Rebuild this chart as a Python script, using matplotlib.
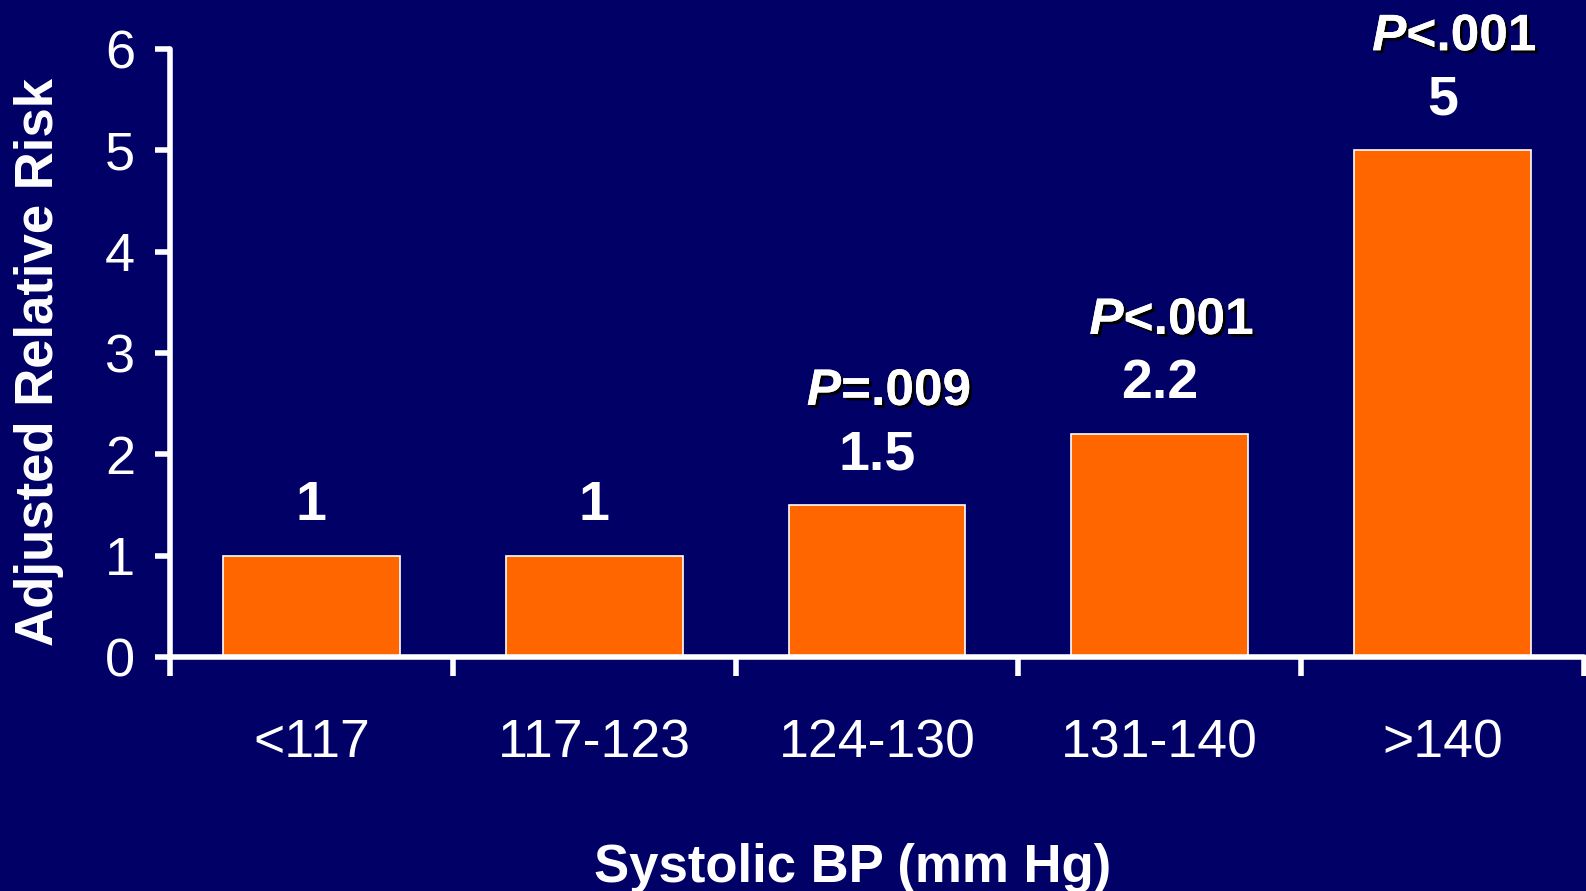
import matplotlib.pyplot as plt
from matplotlib import patheffects
import numpy as np

groups = ['<117', '117-123', '124-130', '131-140', '>140']
risk = [1, 1, 1.5, 2.2, 5]
p_labels = ['', '', '=.009', '<.001', '<.001']

BG = '#000066'
BAR = '#ff6600'

plt.rcParams['font.family'] = ['Liberation Sans', 'DejaVu Sans']
plt.rcParams['mathtext.fontset'] = 'custom'
plt.rcParams['mathtext.it'] = 'Liberation Sans:italic:bold'
plt.rcParams['mathtext.rm'] = 'Liberation Sans:bold'

fig = plt.figure(figsize=(15.86, 8.91), dpi=100, facecolor=BG)
ax = fig.add_axes([0.1072, 0.2626, 0.8915, 0.6824], facecolor=BG)

x = np.arange(len(groups))
ax.bar(x, risk, width=0.625, color=BAR, edgecolor='white', linewidth=1.2, zorder=2)

ax.set_xlim(-0.5, len(groups) - 0.5)
ax.set_ylim(0, 6)
ax.set_yticks(range(7))

# labels sit under the bar centres, tick marks go on the group boundaries
ax.set_xticks(x)
ax.set_xticklabels(groups)
ax.set_xticks(np.arange(len(groups) + 1) - 0.5, minor=True)
ax.tick_params(axis='x', which='major', length=0, pad=44, labelsize=38.5, labelcolor='white')
ax.tick_params(axis='x', which='minor', length=14, width=4, color='white', direction='out')
ax.tick_params(axis='y', length=11, width=4, color='white', pad=14, labelsize=39, labelcolor='white')

for side in ['top', 'right']:
    ax.spines[side].set_visible(False)
for side in ['left', 'bottom']:
    ax.spines[side].set_color('white')
    ax.spines[side].set_linewidth(4)
    ax.spines[side].set_capstyle('round')

shadow = [patheffects.withSimplePatchShadow(offset=(2, -2), shadow_rgbFace='black', alpha=1),
          patheffects.Normal()]

for xi, v, p in zip(x, risk, p_labels):
    ax.annotate('%g' % v, (xi, v), xytext=(0, 36), textcoords='offset pixels',
                ha='center', va='baseline', fontsize=40, fontweight='bold', color='white')
    if p:
        ax.annotate(r'$P$' + p, (xi, v), xytext=(12, 100), textcoords='offset pixels',
                    ha='center', va='baseline', fontsize=37, fontweight='bold', color='white',
                    path_effects=shadow)

fig.text(53 / 1586, 0.594, 'Adjusted Relative Risk', rotation=90, rotation_mode='anchor',
         ha='center', va='baseline', fontsize=38, fontweight='bold', color='white')
fig.text(0.5375, 9 / 891, 'Systolic BP (mm Hg)', ha='center', va='baseline',
         fontsize=38, fontweight='bold', color='white')

fig.savefig('out.png', dpi=100, facecolor=BG)
